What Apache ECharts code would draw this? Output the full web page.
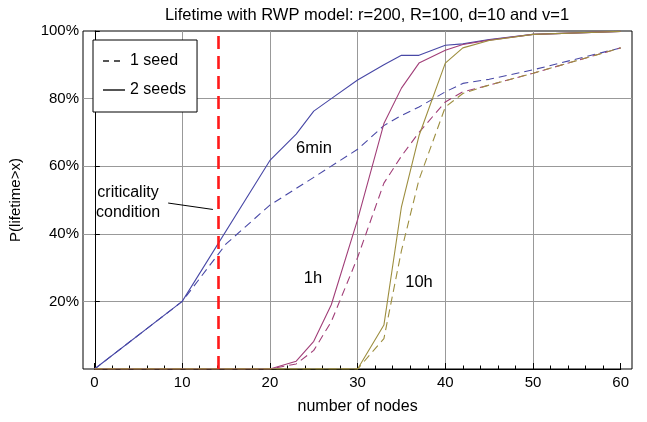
<!DOCTYPE html>
<html>
<head>
<meta charset="utf-8">
<script src="https://cdn.jsdelivr.net/npm/echarts@6/dist/echarts.min.js"></script>
<style>
  html, body { margin: 0; padding: 0; background: #fff; }
  #chart { width: 647px; height: 422px; }
</style>
</head>
<body>
<div id="chart"></div>
<script>
  // values, in percent
  var nodes6min2 = [0, 10, 20, 23, 25, 27, 30, 33, 35, 37, 40, 42, 45, 50, 60];
  var p6min2 = [0, 20, 61.7, 69.5, 76.3, 80, 85.5, 90, 92.8, 92.8, 95.8, 96.2, 97.5, 99, 99.9];

  var nodes6min1 = [0, 10, 15, 20, 25, 30, 33, 35, 37, 40, 42, 45, 50, 60];
  var p6min1 = [0, 20, 37, 48.5, 56.7, 65, 72, 75, 77.5, 82, 84.5, 85.7, 88.5, 95];

  var nodes1h2 = [0, 20, 23, 25, 27, 30, 33, 35, 37, 40, 42, 45, 50, 60];
  var p1h2 = [0, 0, 2.3, 8.2, 19, 44.2, 72.6, 83.1, 90.5, 94.3, 96, 97.3, 99, 99.9];

  var nodes1h1 = [0, 20, 23, 25, 27, 30, 33, 35, 37, 40, 42, 45, 50, 60];
  var p1h1 = [0, 0, 1.5, 5.5, 14, 33, 55, 63, 70, 79, 82, 84, 87.5, 95];

  var nodes10h2 = [0, 30, 33, 35, 37, 40, 42, 45, 50, 60];
  var p10h2 = [0, 0, 13, 48, 69, 90.5, 95, 97.2, 99, 99.9];

  var nodes10h1 = [0, 30, 33, 35, 37, 40, 42, 45, 50, 60];
  var p10h1 = [0, 0, 9, 35, 56, 77.5, 81.5, 84, 87.5, 95];

  var criticalNodes = 14.1;
  var xTicks = [0, 10, 20, 30, 40, 50, 60];
  var yTicks = [20, 40, 60, 80, 100];

  var font = '"Liberation Sans", Arial, sans-serif';
  var blue = '#4848a6', magenta = '#a13e78', olive = '#9d8e3f';

  function pairs(xs, ys) {
    var out = [];
    for (var i = 0; i < xs.length; i++) out.push([xs[i], ys[i]]);
    return out;
  }

  function curve(name, xs, ys, color, dashed) {
    return {
      name: name,
      type: 'line',
      xAxisIndex: 1,
      yAxisIndex: 1,
      symbol: 'none',
      silent: true,
      lineStyle: { color: color, width: 1.1, type: dashed ? [8, 5] : 'solid' },
      data: pairs(xs, ys)
    };
  }

  var myChart = echarts.init(document.getElementById('chart'));

  myChart.setOption({
    animation: false,
    backgroundColor: '#fff',
    title: {
      text: 'Lifetime with RWP model: r=200, R=100, d=10 and v=1',
      left: 362,
      top: 2,
      textAlign: 'center',
      textStyle: { fontSize: 16.5, fontWeight: 'normal', color: '#000', fontFamily: font }
    },
    legend: {
      data: ['1 seed', '2 seeds'],
      orient: 'vertical',
      left: 93,
      top: 40,
      itemWidth: 22,
      itemHeight: 14,
      itemGap: 13,
      padding: [13, 11, 14, 9],
      borderColor: '#000',
      borderWidth: 1,
      backgroundColor: '#fff',
      selectedMode: false,
      itemStyle: { opacity: 0 },
      textStyle: { fontSize: 16, color: '#000', fontFamily: font }
    },
    grid: [
      { left: 82, right: 15, top: 31, bottom: 53, show: true, borderColor: '#000', borderWidth: 1 },
      { left: 94.5, right: 26.3, top: 31, bottom: 53 }
    ],
    xAxis: [
      { gridIndex: 0, type: 'value', min: -1.35, max: 61.35, show: false },
      {
        gridIndex: 1, type: 'value', min: xTicks[0], max: xTicks[xTicks.length - 1], interval: 10,
        axisLine: { show: true, lineStyle: { color: '#000' } },
        axisTick: { inside: true, length: 6, lineStyle: { color: '#000' } },
        minorTick: { show: true, splitNumber: 5, length: 3.5, lineStyle: { color: '#000' } },
        axisLabel: { margin: 6, fontSize: 15, color: '#000', fontFamily: font },
        splitLine: { show: true, showMinLine: false, showMaxLine: false, lineStyle: { color: '#999' } },
        name: 'number of nodes',
        nameLocation: 'middle',
        nameGap: 30,
        nameTextStyle: { fontSize: 16, color: '#000', fontFamily: font }
      }
    ],
    yAxis: [
      {
        gridIndex: 0, type: 'value', min: 0, max: yTicks[yTicks.length - 1], interval: 20,
        axisLine: { show: true, lineStyle: { color: '#000' } },
        axisTick: { inside: true, length: 5, lineStyle: { color: '#000' } },
        axisLabel: {
          margin: 4, fontSize: 15, color: '#000', fontFamily: font,
          formatter: function (v) { return yTicks.indexOf(v) >= 0 ? v + '%' : ''; }
        },
        splitLine: { show: true, showMinLine: false, showMaxLine: false, lineStyle: { color: '#999' } },
        name: 'P(lifetime>x)',
        nameLocation: 'middle',
        nameGap: 60,
        nameTextStyle: { fontSize: 15, color: '#000', fontFamily: font }
      },
      { gridIndex: 1, type: 'value', min: 0, max: 100, show: false }
    ],
    graphic: [
      { type: 'text', x: 128, y: 193, style: { text: 'criticality', align: 'center', verticalAlign: 'middle', font: '16px ' + font, fill: '#000' } },
      { type: 'text', x: 128, y: 213, style: { text: 'condition', align: 'center', verticalAlign: 'middle', font: '16px ' + font, fill: '#000' } },
      { type: 'text', x: 314, y: 148, style: { text: '6min', align: 'center', verticalAlign: 'middle', font: '16.5px ' + font, fill: '#000' } },
      { type: 'text', x: 313, y: 278, style: { text: '1h', align: 'center', verticalAlign: 'middle', font: '16.5px ' + font, fill: '#000' } },
      { type: 'text', x: 419, y: 282, style: { text: '10h', align: 'center', verticalAlign: 'middle', font: '16.5px ' + font, fill: '#000' } }
    ],
    series: [
      curve('6min, 1 seed', nodes6min1, p6min1, blue, true),
      curve('6min, 2 seeds', nodes6min2, p6min2, blue, false),
      curve('1h, 1 seed', nodes1h1, p1h1, magenta, true),
      curve('1h, 2 seeds', nodes1h2, p1h2, magenta, false),
      curve('10h, 1 seed', nodes10h1, p10h1, olive, true),
      curve('10h, 2 seeds', nodes10h2, p10h2, olive, false),
      // legend entries only
      { name: '1 seed', type: 'line', xAxisIndex: 1, yAxisIndex: 1, symbol: 'none', data: [],
        itemStyle: { color: '#555' }, lineStyle: { color: '#555', width: 1.2, type: [6, 5] } },
      { name: '2 seeds', type: 'line', xAxisIndex: 1, yAxisIndex: 1, symbol: 'none', data: [],
        itemStyle: { color: '#555' }, lineStyle: { color: '#555', width: 1.2 } },
      // criticality marker and its pointer
      {
        name: 'criticality', type: 'line', xAxisIndex: 1, yAxisIndex: 1, data: [],
        markLine: {
          symbol: 'none', silent: true, animation: false,
          label: { show: false },
          data: [
            { xAxis: criticalNodes, lineStyle: { color: '#ff1a1a', width: 2.6, type: [13, 7] } },
            [
              { coord: [8.4, 49.1], lineStyle: { color: '#000', width: 1, type: 'solid' } },
              { coord: [13.5, 47.2] }
            ]
          ]
        }
      }
    ]
  });
</script>
</body>
</html>
